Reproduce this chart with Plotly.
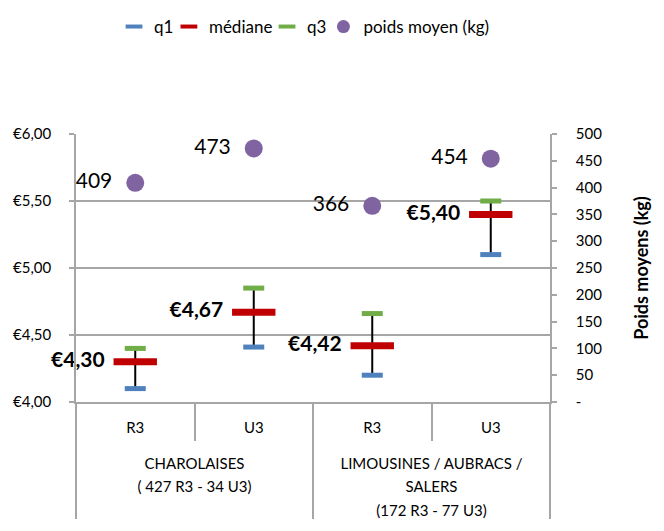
import plotly.graph_objects as go

groups = ["CHAROLAISES<br>( 427 R3 - 34 U3)", "CHAROLAISES<br>( 427 R3 - 34 U3)",
          "LIMOUSINES / AUBRACS /<br>SALERS<br>(172 R3 - 77 U3)",
          "LIMOUSINES / AUBRACS /<br>SALERS<br>(172 R3 - 77 U3)"]
classes = ["R3", "U3", "R3", "U3"]
q1 = [4.10, 4.41, 4.20, 5.10]
mediane = [4.30, 4.67, 4.42, 5.40]
q3 = [4.40, 4.85, 4.66, 5.50]
poids = [409, 473, 366, 454]

left_ticks = [4.0, 4.5, 5.0, 5.5, 6.0]
right_ticks = [0, 50, 100, 150, 200, 250, 300, 350, 400, 450, 500]

def euro(v):
    return "€" + f"{v:.2f}".replace(".", ",")

def small(label):
    # keep 15px glyphs while the axis font (18px) sets a roomier line spacing
    lines = label.split("<br>")
    return "<br>".join(f"<span style='font-size:15px'>{ln}</span>" for ln in lines)

NBSP = "\u00a0"
x = [["<br>" + small(g) for g in groups], [small(c) for c in classes]]
FONT = "Lato"
GRID = "#A6A6A6"
BLUE, RED, GREEN, PURPLE = "#4F81BD", "#C00000", "#70AD47", "#8064A2"

fig = go.Figure()

# black whisker line from q1 to q3
fig.add_trace(go.Scatter(
    x=x, y=mediane, mode="markers", showlegend=False, hoverinfo="skip",
    marker=dict(size=1, color="rgba(0,0,0,0)"),
    error_y=dict(type="data", symmetric=False,
                 array=[b - m for b, m in zip(q3, mediane)],
                 arrayminus=[m - a for m, a in zip(mediane, q1)],
                 color="black", thickness=2, width=0),
))
fig.add_trace(go.Scatter(
    x=x, y=q1, mode="markers", name="q1", showlegend=False,
    marker=dict(symbol="line-ew", size=15, line=dict(width=5, color=BLUE)),
))
fig.add_trace(go.Scatter(
    x=x, y=mediane, mode="markers+text", name="médiane", cliponaxis=False, showlegend=False,
    marker=dict(symbol="line-ew", size=31, line=dict(width=7, color=RED)),
    text=[euro(v) + NBSP * 2 for v in mediane], textposition="middle left",
    textfont=dict(family=FONT, size=21, color="black", weight="bold"),
))
fig.add_trace(go.Scatter(
    x=x, y=q3, mode="markers", name="q3", showlegend=False,
    marker=dict(symbol="line-ew", size=15, line=dict(width=5, color=GREEN)),
))
fig.add_trace(go.Scatter(
    x=x, y=poids, mode="markers+text", name="poids moyen (kg)", yaxis="y2",
    cliponaxis=False, showlegend=False,
    marker=dict(symbol="circle", size=18, color=PURPLE),
    text=[str(v) + NBSP * 2 for v in poids], textposition="middle left",
    textfont=dict(family=FONT, size=21, color="black"),
))

# legend entries (one legend per entry so each sits where the reference shows it)
legend_items = [("q1", "line-ew", BLUE, "legend"), ("médiane", "line-ew", RED, "legend2"),
                ("q3", "line-ew", GREEN, "legend3"), ("poids moyen (kg)", "circle", PURPLE, "legend4")]
for name, sym, col, leg in legend_items:
    if sym == "circle":
        mk = dict(symbol="circle", size=13, color=col)
    else:
        mk = dict(symbol="line-ew", size=12, line=dict(width=4, color=col))
    fig.add_trace(go.Scatter(x=[[x[0][0]], [x[1][0]]], y=[None], mode="markers", name=name,
                             marker=mk, legend=leg, hoverinfo="skip"))

legend_x = [0.0802, 0.196, 0.403, 0.522]
legend_common = dict(orientation="h", xanchor="left", y=0.9637, yanchor="middle",
                     yref="container", font=dict(size=17), bgcolor="rgba(0,0,0,0)")

fig.update_layout(
    width=656, height=523,
    margin=dict(l=68, r=114, t=126, b=129, autoexpand=False),
    paper_bgcolor="white", plot_bgcolor="white",
    font=dict(family=FONT, size=15, color="black"),
    legend=dict(x=legend_x[0], **legend_common),
    legend2=dict(x=legend_x[1], **legend_common),
    legend3=dict(x=legend_x[2], **legend_common),
    legend4=dict(x=legend_x[3], **legend_common),
    xaxis=dict(type="multicategory", range=[-0.5, 3.5], automargin=False,
               showline=True, linecolor=GRID, linewidth=1.5,
               ticks="outside", ticklen=37, tickcolor=GRID, tickwidth=1.5,
               ticklabelstandoff=8,
               showdividers=True, dividercolor=GRID, dividerwidth=1.5,
               tickfont=dict(size=18)),
    yaxis=dict(range=[4, 6], tickvals=left_ticks, ticktext=[euro(v) for v in left_ticks],
               automargin=False,
               showgrid=True, gridcolor=GRID, gridwidth=1.5, zeroline=False,
               showline=True, linecolor=GRID, linewidth=1.5,
               ticks="outside", ticklen=5, tickcolor=GRID, tickwidth=1.5,
               ticklabelstandoff=15),
    yaxis2=dict(range=[0, 500], overlaying="y", side="right", tickvals=right_ticks,
                ticktext=["-" if v == 0 else str(v) for v in right_ticks],
                automargin=False,
                showgrid=False, zeroline=False,
                showline=True, linecolor=GRID, linewidth=1.5,
                ticks="outside", ticklen=5, tickcolor=GRID, tickwidth=1.5,
                ticklabelstandoff=16,
                title=dict(text="<b>Poids moyens (kg)</b>", font=dict(size=18), standoff=34)),
)

fig.write_html("out.html")
